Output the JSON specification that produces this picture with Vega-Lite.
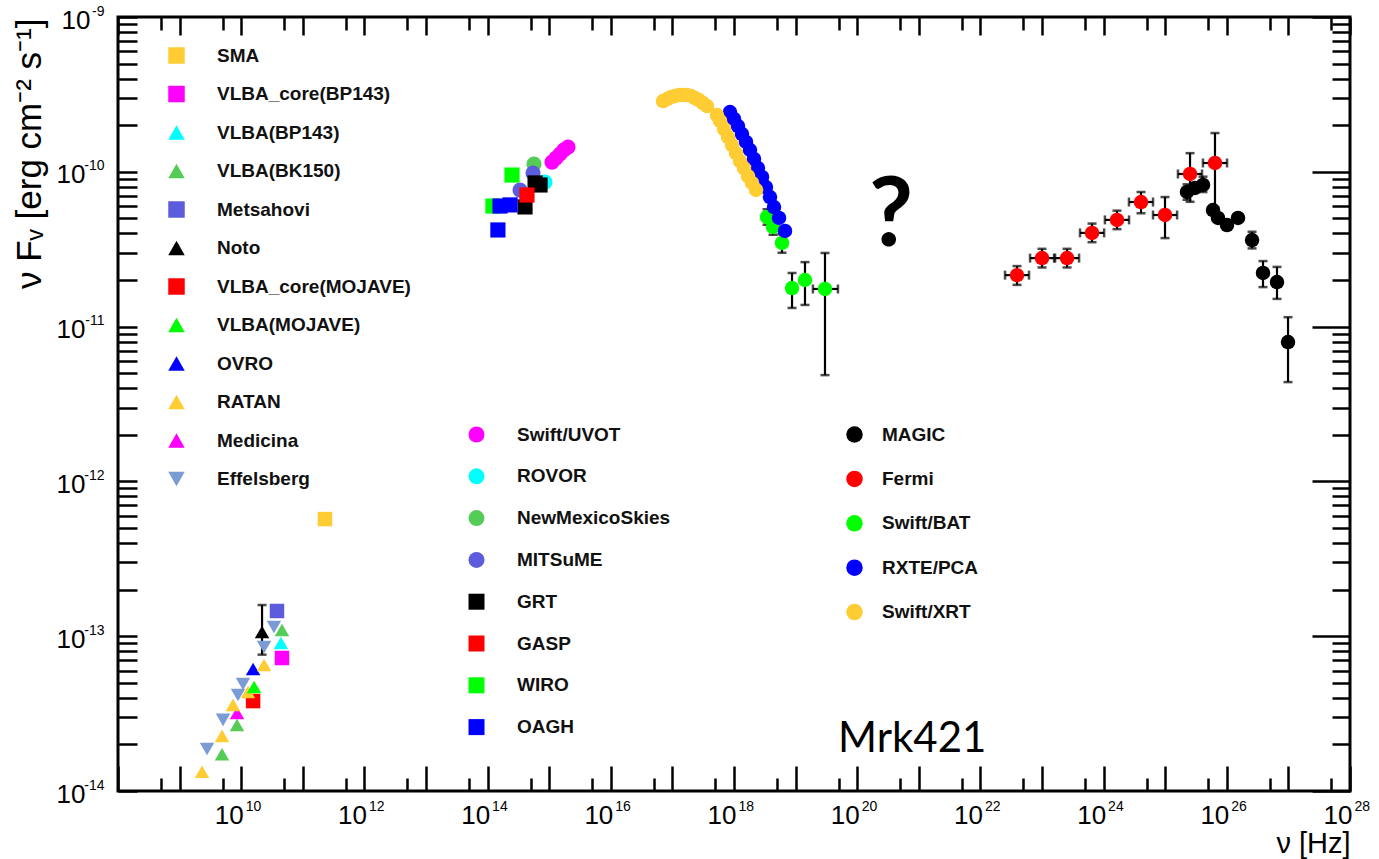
{
  "$schema": "https://vega.github.io/schema/vega-lite/v6.json",
  "width": 1232,
  "height": 774,
  "autosize": {"type": "none"},
  "padding": {"left": 118, "top": 17, "right": 29, "bottom": 68},
  "background": "white",
  "config": {"view": {"stroke": "black", "strokeWidth": 3}, "font": "Liberation Sans"},
  "datasets": {
    "pts": [
      {"g": "R", "src": "SMA", "nu": 2.29e11, "f": 5.71e-13},
      {"g": "R", "src": "RATAN", "nu": 2.31e9, "f": 1.33e-14},
      {"g": "R", "src": "VLBA(BK150)", "nu": 4.88e9, "f": 1.73e-14},
      {"g": "R", "src": "Effelsberg", "nu": 2.79e9, "f": 1.87e-14},
      {"g": "R", "src": "RATAN", "nu": 4.88e9, "f": 2.27e-14},
      {"g": "R", "src": "Effelsberg", "nu": 5.07e9, "f": 2.88e-14},
      {"g": "R", "src": "VLBA(BK150)", "nu": 8.55e9, "f": 2.67e-14},
      {"g": "R", "src": "Medicina", "nu": 8.55e9, "f": 3.19e-14},
      {"g": "R", "src": "RATAN", "nu": 7.36e9, "f": 3.6e-14},
      {"g": "R", "src": "VLBA_core(MOJAVE)", "nu": 1.56e10, "f": 3.81e-14},
      {"g": "R", "src": "RATAN", "nu": 1.29e10, "f": 4.36e-14},
      {"g": "R", "src": "Effelsberg", "nu": 8.87e9, "f": 4.17e-14},
      {"g": "R", "src": "Effelsberg", "nu": 1.07e10, "f": 4.91e-14},
      {"g": "R", "src": "VLBA(MOJAVE)", "nu": 1.62e10, "f": 4.7e-14},
      {"g": "R", "src": "OVRO", "nu": 1.56e10, "f": 6.14e-14},
      {"g": "R", "src": "RATAN", "nu": 2.35e10, "f": 6.52e-14},
      {"g": "R", "src": "Effelsberg", "nu": 2.35e10, "f": 8.51e-14},
      {"g": "R", "src": "VLBA_core(BP143)", "nu": 4.59e10, "f": 7.23e-14},
      {"g": "R", "src": "VLBA(BP143)", "nu": 4.42e10, "f": 9.04e-14},
      {"g": "R", "src": "Noto", "nu": 2.18e10, "f": 1.064e-13, "ylo": 7.6e-14, "yhi": 1.59e-13},
      {"g": "R", "src": "VLBA(BK150)", "nu": 4.59e10, "f": 1.096e-13},
      {"g": "R", "src": "Effelsberg", "nu": 3.4e10, "f": 1.146e-13},
      {"g": "R", "src": "Metsahovi", "nu": 3.81e10, "f": 1.455e-13},

      {"g": "O", "src": "NewMexicoSkies", "nu": 5.66e14, "f": 1.122e-10},
      {"g": "O", "src": "MITSuME", "nu": 5.46e14, "f": 9.82e-11},
      {"g": "O", "src": "MITSuME", "nu": 3.36e14, "f": 7.62e-11},
      {"g": "O", "src": "ROVOR", "nu": 8.55e14, "f": 8.59e-11},
      {"g": "O", "src": "GRT", "nu": 7.1e14, "f": 8.22e-11},
      {"g": "O", "src": "GRT", "nu": 5.9e14, "f": 8.47e-11},
      {"g": "O", "src": "GRT", "nu": 4.05e14, "f": 5.93e-11},
      {"g": "O", "src": "GASP", "nu": 4.36e14, "f": 7.08e-11},
      {"g": "O", "src": "WIRO", "nu": 2.49e14, "f": 9.53e-11},
      {"g": "O", "src": "WIRO", "nu": 1.22e14, "f": 6.01e-11},
      {"g": "O", "src": "OAGH", "nu": 2.31e14, "f": 6.11e-11},
      {"g": "O", "src": "OAGH", "nu": 1.59e14, "f": 6.01e-11},
      {"g": "O", "src": "OAGH", "nu": 1.47e14, "f": 4.21e-11},
      {"g": "O", "src": "Swift/UVOT", "nu": 1.11e15, "f": 1.156e-10},
      {"g": "O", "src": "Swift/UVOT", "nu": 1.29e15, "f": 1.227e-10},
      {"g": "O", "src": "Swift/UVOT", "nu": 1.5e15, "f": 1.303e-10},
      {"g": "O", "src": "Swift/UVOT", "nu": 1.74e15, "f": 1.384e-10},
      {"g": "O", "src": "Swift/UVOT", "nu": 2.02e15, "f": 1.445e-10},

      {"g": "H", "src": "MAGIC", "nu": 2.26e25, "f": 7.41e-11, "ylo": 6.6e-11, "yhi": 8.3e-11},
      {"g": "H", "src": "MAGIC", "nu": 3.05e25, "f": 7.86e-11},
      {"g": "H", "src": "MAGIC", "nu": 4.11e25, "f": 8.22e-11, "ylo": 7.4e-11, "yhi": 9.3e-11},
      {"g": "H", "src": "MAGIC", "nu": 5.97e25, "f": 5.66e-11},
      {"g": "H", "src": "MAGIC", "nu": 7.2e25, "f": 5.03e-11},
      {"g": "H", "src": "MAGIC", "nu": 1.007e26, "f": 4.53e-11},
      {"g": "H", "src": "MAGIC", "nu": 1.52e26, "f": 5.03e-11},
      {"g": "H", "src": "MAGIC", "nu": 2.57e26, "f": 3.62e-11, "ylo": 3.2e-11, "yhi": 4.1e-11},
      {"g": "H", "src": "MAGIC", "nu": 3.87e26, "f": 2.22e-11, "ylo": 1.8e-11, "yhi": 2.65e-11},
      {"g": "H", "src": "MAGIC", "nu": 6.53e26, "f": 1.94e-11, "ylo": 1.51e-11, "yhi": 2.43e-11},
      {"g": "H", "src": "MAGIC", "nu": 9.86e26, "f": 7.94e-12, "ylo": 4.38e-12, "yhi": 1.15e-11},

      {"g": "H", "src": "Swift/BAT", "nu": 3.44e18, "f": 5.11e-11, "ylo": 4.55e-11, "yhi": 5.73e-11},
      {"g": "H", "src": "Swift/BAT", "nu": 4.3e18, "f": 4.4e-11, "ylo": 3.92e-11, "yhi": 4.94e-11},
      {"g": "H", "src": "Swift/BAT", "nu": 6.01e18, "f": 3.47e-11, "ylo": 3.0e-11, "yhi": 3.95e-11},
      {"g": "H", "src": "Swift/BAT", "nu": 8.75e18, "f": 1.775e-11, "ylo": 1.32e-11, "yhi": 2.22e-11},
      {"g": "H", "src": "Swift/BAT", "nu": 1.42e19, "f": 2.0e-11, "ylo": 1.38e-11, "yhi": 2.61e-11},
      {"g": "H", "src": "Swift/BAT", "nu": 3.0e19, "f": 1.75e-11, "ylo": 4.86e-12, "yhi": 2.99e-11, "xlo": 1.91e19, "xhi": 4.87e19},

      {"g": "H", "src": "RXTE/PCA", "nu": 8.61e17, "f": 2.433e-10},
      {"g": "H", "src": "RXTE/PCA", "nu": 1.0e18, "f": 2.194e-10},
      {"g": "H", "src": "RXTE/PCA", "nu": 1.161e18, "f": 1.976e-10},
      {"g": "H", "src": "RXTE/PCA", "nu": 1.349e18, "f": 1.754e-10},
      {"g": "H", "src": "RXTE/PCA", "nu": 1.567e18, "f": 1.558e-10},
      {"g": "H", "src": "RXTE/PCA", "nu": 1.82e18, "f": 1.383e-10},
      {"g": "H", "src": "RXTE/PCA", "nu": 2.11e18, "f": 1.21e-10},
      {"g": "H", "src": "RXTE/PCA", "nu": 2.45e18, "f": 1.058e-10},
      {"g": "H", "src": "RXTE/PCA", "nu": 2.85e18, "f": 9.26e-11},
      {"g": "H", "src": "RXTE/PCA", "nu": 3.3e18, "f": 7.97e-11},
      {"g": "H", "src": "RXTE/PCA", "nu": 3.84e18, "f": 6.87e-11},
      {"g": "H", "src": "RXTE/PCA", "nu": 4.46e18, "f": 5.92e-11},
      {"g": "H", "src": "RXTE/PCA", "nu": 5.38e18, "f": 5.03e-11},
      {"g": "H", "src": "RXTE/PCA", "nu": 6.73e18, "f": 4.15e-11},

      {"g": "H", "src": "Swift/XRT", "nu": 7.03e16, "f": 2.866e-10},
      {"g": "H", "src": "Swift/XRT", "nu": 8.17e16, "f": 2.953e-10},
      {"g": "H", "src": "Swift/XRT", "nu": 9.48e16, "f": 3.042e-10},
      {"g": "H", "src": "Swift/XRT", "nu": 1.102e17, "f": 3.088e-10},
      {"g": "H", "src": "Swift/XRT", "nu": 1.28e17, "f": 3.134e-10},
      {"g": "H", "src": "Swift/XRT", "nu": 1.486e17, "f": 3.134e-10},
      {"g": "H", "src": "Swift/XRT", "nu": 1.726e17, "f": 3.134e-10},
      {"g": "H", "src": "Swift/XRT", "nu": 2.005e17, "f": 3.088e-10},
      {"g": "H", "src": "Swift/XRT", "nu": 2.328e17, "f": 2.996e-10},
      {"g": "H", "src": "Swift/XRT", "nu": 2.704e17, "f": 2.908e-10},
      {"g": "H", "src": "Swift/XRT", "nu": 3.14e17, "f": 2.781e-10},
      {"g": "H", "src": "Swift/XRT", "nu": 3.65e17, "f": 2.661e-10},
      {"g": "H", "src": "Swift/XRT", "nu": 5.3e17, "f": 2.327e-10},
      {"g": "H", "src": "Swift/XRT", "nu": 5.93e17, "f": 2.129e-10},
      {"g": "H", "src": "Swift/XRT", "nu": 6.89e17, "f": 1.89e-10},
      {"g": "H", "src": "Swift/XRT", "nu": 8.0e17, "f": 1.678e-10},
      {"g": "H", "src": "Swift/XRT", "nu": 9.29e17, "f": 1.489e-10},
      {"g": "H", "src": "Swift/XRT", "nu": 1.078e18, "f": 1.322e-10},
      {"g": "H", "src": "Swift/XRT", "nu": 1.251e18, "f": 1.174e-10},
      {"g": "H", "src": "Swift/XRT", "nu": 1.453e18, "f": 1.058e-10},
      {"g": "H", "src": "Swift/XRT", "nu": 1.687e18, "f": 9.39e-11},
      {"g": "H", "src": "Swift/XRT", "nu": 1.96e18, "f": 8.47e-11},
      {"g": "H", "src": "Swift/XRT", "nu": 2.28e18, "f": 7.63e-11},

      {"g": "H", "src": "Fermi", "nu": 3.93e22, "f": 2.15e-11, "ylo": 1.86e-11, "yhi": 2.46e-11, "xlo": 2.51e22, "xhi": 6.16e22},
      {"g": "H", "src": "Fermi", "nu": 1.0e23, "f": 2.77e-11, "ylo": 2.41e-11, "yhi": 3.18e-11, "xlo": 6.4e22, "xhi": 1.57e23},
      {"g": "H", "src": "Fermi", "nu": 2.55e23, "f": 2.77e-11, "ylo": 2.41e-11, "yhi": 3.18e-11, "xlo": 1.63e23, "xhi": 4.0e23},
      {"g": "H", "src": "Fermi", "nu": 6.49e23, "f": 4.03e-11, "ylo": 3.51e-11, "yhi": 4.63e-11, "xlo": 4.14e23, "xhi": 1.02e24},
      {"g": "H", "src": "Fermi", "nu": 1.65e24, "f": 4.89e-11, "ylo": 4.26e-11, "yhi": 5.61e-11, "xlo": 1.05e24, "xhi": 2.59e24},
      {"g": "H", "src": "Fermi", "nu": 4.05e24, "f": 6.38e-11, "ylo": 5.4e-11, "yhi": 7.4e-11, "xlo": 2.58e24, "xhi": 6.35e24},
      {"g": "H", "src": "Fermi", "nu": 9.93e24, "f": 5.26e-11, "ylo": 3.73e-11, "yhi": 6.87e-11, "xlo": 6.34e24, "xhi": 1.56e25},
      {"g": "H", "src": "Fermi", "nu": 2.53e25, "f": 9.68e-11, "ylo": 6.4e-11, "yhi": 1.32e-10, "xlo": 1.61e25, "xhi": 3.96e25},
      {"g": "H", "src": "Fermi", "nu": 6.43e25, "f": 1.14e-10, "ylo": 5.9e-11, "yhi": 1.78e-10, "xlo": 4.1e25, "xhi": 1.01e26}
    ],
    "ann": [
      {"t": "?", "nu": 3.54e20, "f": 3.32e-11},
      {"t": "Mrk421", "nu": 4.88e19, "f": 1.79e-14}
    ]
  },
  "layer": [
    {
      "data": {"name": "pts"},
      "transform": [{"filter": "datum.ylo != null"}],
      "mark": {"type": "rule", "color": "black", "strokeWidth": 2.2},
      "encoding": {
        "x": {"field": "nu", "type": "quantitative", "scale": {"type": "log", "domain": [1e8, 1e28], "nice": false},
          "axis": {"orient": "top", "title": null, "labels": false, "domain": false, "grid": false, "ticks": true, "tickColor": "black", "tickWidth": 2.5,
            "values": [1e8,5e8,1e9,5e9,1e10,5e10,1e11,5e11,1e12,5e12,1e13,5e13,1e14,5e14,1e15,5e15,1e16,5e16,1e17,5e17,1e18,5e18,1e19,5e19,1e20,5e20,1e21,5e21,1e22,5e22,1e23,5e23,1e24,5e24,1e25,5e25,1e26,5e26,1e27,5e27,1e28],
            "tickSize": {"condition": {"test": "abs(log(datum.value)/LN10 - round(log(datum.value)/LN10)) < 0.01", "value": -18}, "value": -13}}},
        "y": {"field": "ylo", "type": "quantitative", "scale": {"type": "log", "domain": [1e-14, 1e-9], "nice": false},
          "axis": {"orient": "right", "title": null, "labels": false, "domain": false, "grid": false, "ticks": true, "tickColor": "black", "tickWidth": 2.5,
            "values": [1e-14,2e-14,3e-14,4e-14,5e-14,6e-14,7e-14,8e-14,9e-14,1e-13,2e-13,3e-13,4e-13,5e-13,6e-13,7e-13,8e-13,9e-13,1e-12,2e-12,3e-12,4e-12,5e-12,6e-12,7e-12,8e-12,9e-12,1e-11,2e-11,3e-11,4e-11,5e-11,6e-11,7e-11,8e-11,9e-11,1e-10,2e-10,3e-10,4e-10,5e-10,6e-10,7e-10,8e-10,9e-10,1e-9],
            "tickSize": {"condition": {"test": "abs(log(datum.value)/LN10 - round(log(datum.value)/LN10)) < 0.01", "value": -38}, "value": -18}}},
        "y2": {"field": "yhi"}
      }
    },
    {
      "data": {"name": "pts"},
      "transform": [{"filter": "datum.ylo != null"}],
      "mark": {"type": "tick", "orient": "horizontal", "color": "black", "size": 9, "thickness": 2.5},
      "encoding": {
        "x": {"field": "nu", "type": "quantitative", "axis": null},
        "y": {"field": "ylo", "type": "quantitative", "axis": null}
      }
    },
    {
      "data": {"name": "pts"},
      "transform": [{"filter": "datum.ylo != null"}],
      "mark": {"type": "tick", "orient": "horizontal", "color": "black", "size": 9, "thickness": 2.5},
      "encoding": {
        "x": {"field": "nu", "type": "quantitative", "axis": null},
        "y": {"field": "yhi", "type": "quantitative", "axis": null}
      }
    },
    {
      "data": {"name": "pts"},
      "transform": [{"filter": "datum.xlo != null"}],
      "mark": {"type": "rule", "color": "black", "strokeWidth": 2.2},
      "encoding": {
        "x": {"field": "xlo", "type": "quantitative", "axis": null},
        "x2": {"field": "xhi"},
        "y": {"field": "f", "type": "quantitative", "axis": null}
      }
    },
    {
      "data": {"name": "pts"},
      "transform": [{"filter": "datum.xlo != null"}],
      "mark": {"type": "tick", "orient": "vertical", "color": "black", "size": 9, "thickness": 2.5},
      "encoding": {
        "x": {"field": "xlo", "type": "quantitative", "axis": null},
        "y": {"field": "f", "type": "quantitative", "axis": null}
      }
    },
    {
      "data": {"name": "pts"},
      "transform": [{"filter": "datum.xlo != null"}],
      "mark": {"type": "tick", "orient": "vertical", "color": "black", "size": 9, "thickness": 2.5},
      "encoding": {
        "x": {"field": "xhi", "type": "quantitative", "axis": null},
        "y": {"field": "f", "type": "quantitative", "axis": null}
      }
    },
    {
      "data": {"name": "pts"},
      "transform": [{"filter": "datum.g == 'R'"}],
      "mark": {"type": "point", "filled": true, "opacity": 1, "size": 210, "strokeWidth": 0},
      "encoding": {
        "x": {"field": "nu", "type": "quantitative",
          "axis": {"orient": "bottom", "labels": false, "domain": false, "grid": false, "ticks": true, "tickColor": "black", "tickWidth": 2.5,
            "values": [1e8,5e8,1e9,5e9,1e10,5e10,1e11,5e11,1e12,5e12,1e13,5e13,1e14,5e14,1e15,5e15,1e16,5e16,1e17,5e17,1e18,5e18,1e19,5e19,1e20,5e20,1e21,5e21,1e22,5e22,1e23,5e23,1e24,5e24,1e25,5e25,1e26,5e26,1e27,5e27,1e28],
            "tickSize": {"condition": {"test": "abs(log(datum.value)/LN10 - round(log(datum.value)/LN10)) < 0.01", "value": -25}, "value": -13},
            "title": "ν [Hz]", "titleX": 1232, "titleY": 61, "titleAlign": "right", "titleAnchor": "end", "titleBaseline": "alphabetic", "titleAngle": 0,
            "titleFont": "Liberation Sans", "titleFontSize": 29, "titleFontWeight": "normal", "titleColor": "black"}},
        "y": {"field": "f", "type": "quantitative",
          "axis": {"orient": "left", "labels": false, "domain": false, "grid": false, "ticks": true, "tickColor": "black", "tickWidth": 2.5, "tickSize": -19,
            "values": [1e-14,2e-14,3e-14,4e-14,5e-14,6e-14,7e-14,8e-14,9e-14,1e-13,2e-13,3e-13,4e-13,5e-13,6e-13,7e-13,8e-13,9e-13,1e-12,2e-12,3e-12,4e-12,5e-12,6e-12,7e-12,8e-12,9e-12,1e-11,2e-11,3e-11,4e-11,5e-11,6e-11,7e-11,8e-11,9e-11,1e-10,2e-10,3e-10,4e-10,5e-10,6e-10,7e-10,8e-10,9e-10,1e-9],
            "title": "ν Fᵥ [erg cm⁻² s⁻¹]", "titleX": -78, "titleY": 1, "titleAngle": 270, "titleAlign": "right", "titleAnchor": "end", "titleBaseline": "alphabetic",
            "titleFont": "Liberation Sans", "titleFontSize": 35, "titleFontWeight": "normal", "titleColor": "black"}},
        "color": {"field": "src", "type": "nominal",
          "scale": {"domain": ["SMA","VLBA_core(BP143)","VLBA(BP143)","VLBA(BK150)","Metsahovi","Noto","VLBA_core(MOJAVE)","VLBA(MOJAVE)","OVRO","RATAN","Medicina","Effelsberg"],
            "range": ["#ffcc33","#ff00ff","#00ffff","#55cc55","#5c5cdc","#000000","#ff0000","#00ff00","#0000ff","#ffcc33","#ff00ff","#7b9bd4"]},
          "legend": {"title": null, "orient": "none", "legendX": 49, "legendY": 29, "padding": 0, "symbolSize": 272, "symbolStrokeWidth": 0, "labelOffset": 31, "rowPadding": 18.5,
            "labelFont": "Liberation Sans", "labelFontSize": 19, "labelFontWeight": "bold", "labelColor": "#111", "labelLimit": 500}},
        "shape": {"field": "src", "type": "nominal",
          "scale": {"domain": ["SMA","VLBA_core(BP143)","VLBA(BP143)","VLBA(BK150)","Metsahovi","Noto","VLBA_core(MOJAVE)","VLBA(MOJAVE)","OVRO","RATAN","Medicina","Effelsberg"],
            "range": ["square","square","triangle-up","triangle-up","square","triangle-up","square","triangle-up","triangle-up","triangle-up","triangle-up","triangle-down"]},
          "legend": {"title": null, "orient": "none", "legendX": 49, "legendY": 29, "padding": 0, "symbolSize": 272, "symbolStrokeWidth": 0, "labelOffset": 31, "rowPadding": 18.5,
            "labelFont": "Liberation Sans", "labelFontSize": 19, "labelFontWeight": "bold", "labelColor": "#111", "labelLimit": 500}}
      }
    },
    {
      "data": {"name": "pts"},
      "transform": [{"filter": "datum.g == 'O'"}],
      "mark": {"type": "point", "filled": true, "opacity": 1, "size": 230, "strokeWidth": 0},
      "encoding": {
        "x": {"field": "nu", "type": "quantitative",
          "axis": {"orient": "bottom", "title": null, "ticks": false, "domain": false, "grid": false,
            "values": [1e10,1e12,1e14,1e16,1e18,1e20,1e22,1e24,1e26,1e28],
            "labelExpr": "'10'", "labelAlign": "right", "labelBaseline": "top", "labelPadding": 11, "labelOffset": 2,
            "labelFont": "Liberation Sans", "labelFontSize": 26, "labelColor": "black", "labelOverlap": false, "labelFlush": false, "labelBound": false}},
        "y": {"field": "f", "type": "quantitative",
          "axis": {"orient": "left", "title": null, "ticks": false, "domain": false, "grid": false,
            "values": [1e-14,1e-13,1e-12,1e-11,1e-10,1e-9],
            "labelExpr": "'10'", "labelAlign": "right", "labelBaseline": "middle",
            "labelPadding": {"condition": {"test": "datum.value > 5e-10", "value": 28}, "value": 33}, "labelOffset": 3,
            "labelFont": "Liberation Sans", "labelFontSize": 26, "labelColor": "black", "labelOverlap": false, "labelFlush": false, "labelBound": false}},
        "color": {"field": "src", "type": "nominal",
          "scale": {"domain": ["Swift/UVOT","ROVOR","NewMexicoSkies","MITSuME","GRT","GASP","WIRO","OAGH"],
            "range": ["#ff00ff","#00ffff","#55cc55","#5c5cdc","#000000","#ff0000","#00ff00","#0000ff"]},
          "legend": {"title": null, "orient": "none", "legendX": 349, "legendY": 408, "padding": 0, "symbolSize": 256, "symbolStrokeWidth": 0, "labelOffset": 31, "rowPadding": 21.8,
            "labelFont": "Liberation Sans", "labelFontSize": 19, "labelFontWeight": "bold", "labelColor": "#111", "labelLimit": 500}},
        "shape": {"field": "src", "type": "nominal",
          "scale": {"domain": ["Swift/UVOT","ROVOR","NewMexicoSkies","MITSuME","GRT","GASP","WIRO","OAGH"],
            "range": ["circle","circle","circle","circle","square","square","square","square"]},
          "legend": {"title": null, "orient": "none", "legendX": 349, "legendY": 408, "padding": 0, "symbolSize": 256, "symbolStrokeWidth": 0, "labelOffset": 31, "rowPadding": 21.8,
            "labelFont": "Liberation Sans", "labelFontSize": 19, "labelFontWeight": "bold", "labelColor": "#111", "labelLimit": 500}}
      }
    },
    {
      "data": {"name": "pts"},
      "transform": [{"filter": "datum.g == 'H'"}],
      "mark": {"type": "point", "filled": true, "opacity": 1, "shape": "circle", "size": 210, "strokeWidth": 0},
      "encoding": {
        "x": {"field": "nu", "type": "quantitative",
          "axis": {"orient": "bottom", "title": null, "ticks": false, "domain": false, "grid": false,
            "values": [1e10,1e12,1e14,1e16,1e18,1e20,1e22,1e24,1e26,1e28],
            "labelExpr": "'' + round(log(datum.value)/LN10)", "labelAlign": "left", "labelBaseline": "top", "labelPadding": 8, "labelOffset": 4,
            "labelFont": "Liberation Sans", "labelFontSize": 14, "labelColor": "black", "labelOverlap": false, "labelFlush": false, "labelBound": false}},
        "y": {"field": "f", "type": "quantitative",
          "axis": {"orient": "left", "title": null, "ticks": false, "domain": false, "grid": false,
            "values": [1e-14,1e-13,1e-12,1e-11,1e-10,1e-9],
            "labelExpr": "'' + round(log(datum.value)/LN10)", "labelAlign": "right", "labelBaseline": "middle", "labelPadding": 14, "labelOffset": -6,
            "labelFont": "Liberation Sans", "labelFontSize": 14, "labelColor": "black", "labelOverlap": false, "labelFlush": false, "labelBound": false}},
        "color": {"field": "src", "type": "nominal",
          "scale": {"domain": ["MAGIC","Fermi","Swift/BAT","RXTE/PCA","Swift/XRT"],
            "range": ["#000000","#ff0000","#00ff00","#0000ff","#ffcc33"]},
          "legend": {"title": null, "orient": "none", "legendX": 727, "legendY": 408, "padding": 0, "symbolSize": 272, "symbolType": "circle", "symbolStrokeWidth": 0, "labelOffset": 18, "rowPadding": 24.4,
            "labelFont": "Liberation Sans", "labelFontSize": 19, "labelFontWeight": "bold", "labelColor": "#111", "labelLimit": 500}}
      }
    },
    {
      "data": {"name": "ann"},
      "transform": [{"filter": "datum.t == '?'"}],
      "mark": {"type": "text", "font": "Lato", "fontWeight": "bold", "fontSize": 96, "align": "center", "baseline": "alphabetic", "color": "black"},
      "encoding": {
        "x": {"field": "nu", "type": "quantitative", "axis": null},
        "y": {"field": "f", "type": "quantitative", "axis": null},
        "text": {"field": "t"}
      }
    },
    {
      "data": {"name": "ann"},
      "transform": [{"filter": "datum.t == 'Mrk421'"}],
      "mark": {"type": "text", "font": "Lato", "fontSize": 42, "align": "left", "baseline": "alphabetic", "color": "black"},
      "encoding": {
        "x": {"field": "nu", "type": "quantitative", "axis": null},
        "y": {"field": "f", "type": "quantitative", "axis": null},
        "text": {"field": "t"}
      }
    }
  ],
  "resolve": {
    "scale": {"color": "independent", "shape": "independent"},
    "axis": {"x": "independent", "y": "independent"}
  }
}
